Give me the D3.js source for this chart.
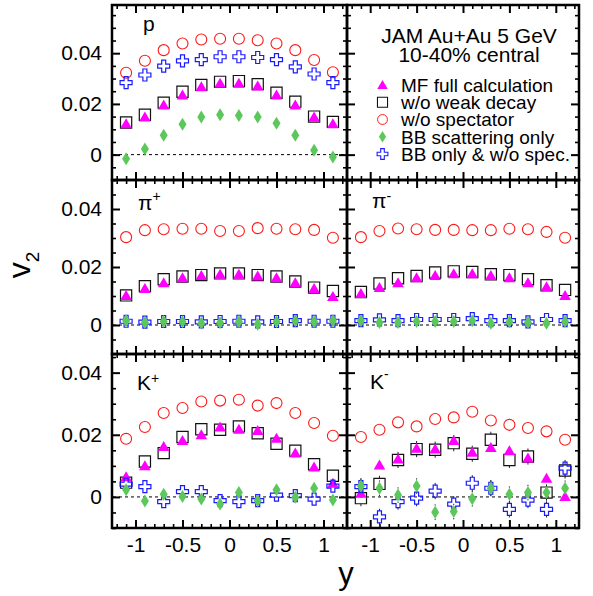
<!DOCTYPE html>
<html>
<head>
<meta charset="utf-8">
<script src="https://cdn.jsdelivr.net/npm/d3@7"></script>
<style>
  body { margin: 0; background: #fff; }
  svg { display: block; font-family: "Liberation Sans", Arial, Helvetica, sans-serif; }
</style>
</head>
<body>
<svg id="chart" width="593" height="596"></svg>
<script>
// rapidity bin centres
const rapidity = [-1.1, -0.9, -0.7, -0.5, -0.3, -0.1, 0.1, 0.3, 0.5, 0.7, 0.9, 1.1];

const seriesNames = ["MF full calculation", "w/o weak decay", "w/o spectator",
                     "BB scattering only", "BB only & w/o spec."];

// proton
const protonMF      = [0.0122, 0.0148, 0.0196, 0.0235, 0.0268, 0.0281, 0.0281, 0.0271, 0.0235, 0.0196, 0.0148, 0.0122];
const protonNoWeak  = [0.0127, 0.0157, 0.0205, 0.0248, 0.0275, 0.0287, 0.0290, 0.0278, 0.0244, 0.0209, 0.0150, 0.0129];
const protonNoSpec  = [0.0323, 0.0370, 0.0412, 0.0438, 0.0454, 0.0457, 0.0457, 0.0451, 0.0438, 0.0412, 0.0373, 0.0325];
const protonBB      = [-0.0016, 0.0022, 0.0076, 0.0120, 0.0148, 0.0157, 0.0154, 0.0148, 0.0124, 0.0076, 0.0017, -0.0009];
const protonBBNoSpec= [0.0284, 0.0314, 0.0349, 0.0370, 0.0375, 0.0386, 0.0386, 0.0383, 0.0375, 0.0346, 0.0318, 0.0284];

// pi+
const pipMF      = [0.0102, 0.0126, 0.0146, 0.0163, 0.0171, 0.0175, 0.0175, 0.0169, 0.0163, 0.0146, 0.0126, 0.0098];
const pipNoWeak  = [0.0102, 0.0134, 0.0158, 0.0167, 0.0172, 0.0178, 0.0178, 0.0172, 0.0167, 0.0150, 0.0129, 0.0117];
const pipNoSpec  = [0.0303, 0.0327, 0.0330, 0.0332, 0.0332, 0.0324, 0.0324, 0.0334, 0.0332, 0.0330, 0.0328, 0.0301];
const pipBB      = [0.0015, 0.0009, 0.0012, 0.0011, 0.0006, 0.0008, 0.0011, 0.0003, 0.0011, 0.0015, 0.0011, 0.0015];
const pipBBNoSpec= [0.0013, 0.0010, 0.0012, 0.0012, 0.0011, 0.0012, 0.0013, 0.0011, 0.0012, 0.0015, 0.0013, 0.0013];

// pi-
const pimMF      = [0.0109, 0.0129, 0.0146, 0.0163, 0.0171, 0.0177, 0.0177, 0.0171, 0.0163, 0.0146, 0.0132, 0.0102];
const pimNoWeak  = [0.0114, 0.0143, 0.0161, 0.0169, 0.0181, 0.0185, 0.0183, 0.0175, 0.0172, 0.0158, 0.0137, 0.0121];
const pimNoSpec  = [0.0303, 0.0324, 0.0333, 0.0330, 0.0328, 0.0328, 0.0327, 0.0327, 0.0332, 0.0330, 0.0321, 0.0301];
const pimBB      = [0.0015, 0.0009, 0.0009, 0.0012, 0.0012, 0.0012, 0.0015, 0.0006, 0.0011, 0.0009, 0.0006, 0.0012];
const pimBBNoSpec= [0.0015, 0.0018, 0.0015, 0.0019, 0.0019, 0.0019, 0.0022, 0.0015, 0.0015, 0.0011, 0.0019, 0.0015];

// K+
const kpMF      = [0.0065, 0.0100, 0.0162, 0.0182, 0.0200, 0.0225, 0.0218, 0.0214, 0.0189, 0.0141, 0.0096, 0.0044];
const kpNoWeak  = [0.0046, 0.0114, 0.0141, 0.0193, 0.0218, 0.0216, 0.0227, 0.0205, 0.0171, 0.0149, 0.0105, 0.0068];
const kpNoSpec  = [0.0187, 0.0225, 0.0270, 0.0286, 0.0307, 0.0310, 0.0313, 0.0294, 0.0302, 0.0270, 0.0238, 0.0197];
const kpBB      = [0.0023, -0.0013, 0.0009, 0.0001, -0.0007, -0.0023, 0.0014, -0.0012, 0.0023, -0.0001, 0.0028, -0.0010];
const kpBBNoSpec= [0.0041, 0.0033, -0.0015, 0.0017, 0.0017, -0.0012, -0.0015, -0.0012, 0.0006, 0.0004, -0.0007, 0.0035];

// K-
const kmMF      = [0.0012, 0.0103, 0.0122, 0.0157, 0.0154, 0.0182, 0.0144, 0.0159, 0.0149, 0.0125, 0.0060, 0.0001];
const kmNoWeak  = [-0.0004, 0.0042, 0.0119, 0.0154, 0.0152, 0.0173, 0.0139, 0.0184, 0.0119, 0.0130, 0.0014, 0.0085];
const kmNoSpec  = [0.0193, 0.0216, 0.0240, 0.0227, 0.0251, 0.0256, 0.0274, 0.0246, 0.0232, 0.0222, 0.0211, 0.0184];
const kmBB      = [0.0035, 0.0028, 0.0006, 0.0035, -0.0049, -0.0047, -0.0006, 0.0028, 0.0009, 0.0014, 0.0014, 0.0028];
const kmBBNoSpec= [0.0033, -0.0064, -0.0015, -0.0004, 0.0019, -0.0023, 0.0044, 0.0028, -0.0040, -0.0010, -0.0040, 0.0093];

// statistical errors, one per series (MF, noWeak, noSpec, BB, BBnoSpec)
const protonErr = [0.0003, 0.0003, 0.0003, 0.0003, 0.0003];
const pionErr   = [0.0003, 0.0003, 0.0003, 0.0003, 0.0003];
const kpErr     = [0.0010, 0.0010, 0.0008, 0.0010, 0.0010];
const kmErr     = [0.0016, 0.0026, 0.0010, 0.0025, 0.0026];

const yTicksMajor = [0, 0.02, 0.04];
const xTicksMajor = [-1, -0.5, 0, 0.5, 1];

// ---------- layout ----------
const svg = d3.select("#chart");
const colEdges = [112, 347, 579];
const rowEdges = [5, 180, 354, 528];
const yTops = [0.059, 0.05, 0.046];   // each row has its own y range
const yBottom = -0.01;

const panels = [
  {row: 0, col: 0, label: "p", sup: "", lx: 143, ly: 31, sdy: 0,
   data: [protonMF, protonNoWeak, protonNoSpec, protonBB, protonBBNoSpec], err: protonErr},
  {row: 0, col: 1, legend: true},
  {row: 1, col: 0, label: "π", sup: "+", lx: 138, ly: 210, sdy: -9.5,
   data: [pipMF, pipNoWeak, pipNoSpec, pipBB, pipBBNoSpec], err: pionErr},
  {row: 1, col: 1, label: "π", sup: "-", lx: 372, ly: 208, sdy: -7,
   data: [pimMF, pimNoWeak, pimNoSpec, pimBB, pimBBNoSpec], err: pionErr},
  {row: 2, col: 0, label: "K", sup: "+", lx: 137, ly: 390, sdy: -7,
   data: [kpMF, kpNoWeak, kpNoSpec, kpBB, kpBBNoSpec], err: kpErr},
  {row: 2, col: 1, label: "K", sup: "-", lx: 370, ly: 389, sdy: -10,
   data: [kmMF, kmNoWeak, kmNoSpec, kmBB, kmBBNoSpec], err: kmErr}
];

// marker styles, same order as seriesNames
function crossPath(s, a) {
  return `M${-a},${-s}H${a}V${-a}H${s}V${a}H${a}V${s}H${-a}V${a}H${-s}V${-a}H${-a}Z`;
}
const markers = [
  {path: "M0,-5.5L5.8,4.5L-5.8,4.5Z", fill: "#ff00ff", stroke: "none", sw: 0, half: 5.5},
  {path: "M-5.6,-5.6H5.6V5.6H-5.6Z", fill: "none", stroke: "#111", sw: 1.2, half: 5.6},
  {path: d3.symbol(d3.symbolCircle, 95)(), fill: "none", stroke: "#ff1a1a", sw: 1.1, half: 5.5},
  {path: "M0,-6.5L4,0L0,6.5L-4,0Z", fill: "#5cc85c", stroke: "none", sw: 0, half: 6.5},
  {path: crossPath(6, 2), fill: "none", stroke: "#1a1aff", sw: 1.2, half: 6}
];
// drawing order: squares, triangles, circles, crosses, diamonds
const drawOrder = [1, 0, 2, 4, 3];

const fmtY = d => d === 0 ? "0" : d3.format(".2f")(d);
const fmtX = d => String(d);

panels.forEach(p => {
  const x0 = colEdges[p.col], x1 = colEdges[p.col + 1];
  const y0 = rowEdges[p.row], y1 = rowEdges[p.row + 1];
  const x = d3.scaleLinear().domain([-1.25, 1.25]).range([x0, x1]);
  const y = d3.scaleLinear().domain([yBottom, yTops[p.row]]).range([y1, y0]);

  const g = svg.append("g");

  const yMinor = d3.range(-0.01, yTops[p.row] + 1e-9, 0.005)
    .map(v => +v.toFixed(3)).filter(v => Math.abs(v / 0.02 - Math.round(v / 0.02)) > 1e-6);
  const xMinor = d3.range(-12, 13).map(v => v / 10).filter(v => Math.abs(v * 2 - Math.round(v * 2)) > 1e-6);

  const showY = p.col === 0, showX = p.row === 2;

  const axes = [
    [d3.axisLeft(y).tickValues(yTicksMajor).tickSize(-8).tickPadding(10).tickFormat(showY ? fmtY : ""), x0, 0, 2],
    [d3.axisLeft(y).tickValues(yMinor).tickSize(-4).tickFormat(""), x0, 0, 1.6],
    [d3.axisRight(y).tickValues(yTicksMajor).tickSize(-8).tickFormat(""), x1, 0, 2],
    [d3.axisRight(y).tickValues(yMinor).tickSize(-4).tickFormat(""), x1, 0, 1.6],
    [d3.axisTop(x).tickValues(xTicksMajor).tickSize(-8).tickFormat(""), 0, y0, 2],
    [d3.axisTop(x).tickValues(xMinor).tickSize(-4).tickFormat(""), 0, y0, 1.6],
    [d3.axisBottom(x).tickValues(xTicksMajor).tickSize(-8).tickPadding(9).tickFormat(showX ? fmtX : ""), 0, y1, 2],
    [d3.axisBottom(x).tickValues(xMinor).tickSize(-4).tickFormat(""), 0, y1, 1.6]
  ];
  axes.forEach(([ax, tx, ty, w]) => {
    const a = g.append("g").attr("transform", `translate(${tx},${ty})`).call(ax);
    a.select(".domain").remove();
    a.selectAll("line").attr("stroke", "#000").attr("stroke-width", w);
    a.selectAll("text").attr("fill", "#000").style("font-size", "21px")
      .style("font-family", '"Liberation Sans", Arial, Helvetica, sans-serif');
  });

  g.append("rect").attr("x", x0).attr("y", y0).attr("width", x1 - x0).attr("height", y1 - y0)
    .attr("fill", "none").attr("stroke", "#000").attr("stroke-width", 2.5);

  if (p.legend) {
    const cx = (x0 + x1) / 2 + 6;
    g.append("text").attr("x", cx).attr("y", 43).attr("text-anchor", "middle")
      .style("font-size", "21px").text("JAM Au+Au 5 GeV");
    g.append("text").attr("x", cx).attr("y", 62).attr("text-anchor", "middle")
      .style("font-size", "21px").text("10-40% central");
    const rowY = d3.scalePoint().domain(d3.range(seriesNames.length)).range([85, 154]);
    seriesNames.forEach((name, i) => {
      const m = markers[i];
      g.append("path").attr("d", m.path).attr("transform", `translate(382.5,${rowY(i)}) scale(0.9)`)
        .attr("fill", m.fill).attr("stroke", m.stroke).attr("stroke-width", m.sw);
      g.append("text").attr("x", 401).attr("y", rowY(i)).attr("dy", "0.36em")
        .style("font-size", "19px").text(name);
    });
    return;
  }

  // zero line
  g.append("line").attr("x1", x0 + 1).attr("x2", x1 - 1).attr("y1", y(0)).attr("y2", y(0))
    .attr("stroke", "#000").attr("stroke-width", 1).attr("stroke-dasharray", "3,3");

  // error bars, drawn only where they stick out of the marker
  drawOrder.forEach(si => {
    const vals = p.data[si], e = p.err[si], h = markers[si].half;
    vals.forEach((d, i) => {
      const cx = x(rapidity[i]), cy = y(d);
      const up = y(d + e), dn = y(d - e);
      if (cy - up <= h) return;
      g.append("line").attr("x1", cx).attr("x2", cx).attr("y1", up).attr("y2", cy - h)
        .attr("stroke", "#222").attr("stroke-width", 1);
      g.append("line").attr("x1", cx).attr("x2", cx).attr("y1", cy + h).attr("y2", dn)
        .attr("stroke", "#222").attr("stroke-width", 1);
    });
  });

  drawOrder.forEach(si => {
    const m = markers[si];
    g.selectAll(null).data(p.data[si]).enter().append("path")
      .attr("d", m.path)
      .attr("transform", (d, i) => `translate(${x(rapidity[i])},${y(d)})`)
      .attr("fill", m.fill).attr("stroke", m.stroke).attr("stroke-width", m.sw);
  });

  const t = g.append("text").attr("x", p.lx).attr("y", p.ly).style("font-size", "21px").text(p.label);
  t.append("tspan").attr("dy", p.sdy).style("font-size", "14px").text(p.sup);
});

// axis titles
svg.append("text").attr("transform", "translate(30,265) rotate(-90)").attr("text-anchor", "middle")
  .style("font-size", "32px")
  .call(t => {
    t.append("tspan").text("v");
    t.append("tspan").attr("dy", 9).style("font-size", "19px").text("2");
  });
svg.append("text").attr("x", 346).attr("y", 584).attr("text-anchor", "middle")
  .style("font-size", "31px").text("y");
</script>
</body>
</html>
